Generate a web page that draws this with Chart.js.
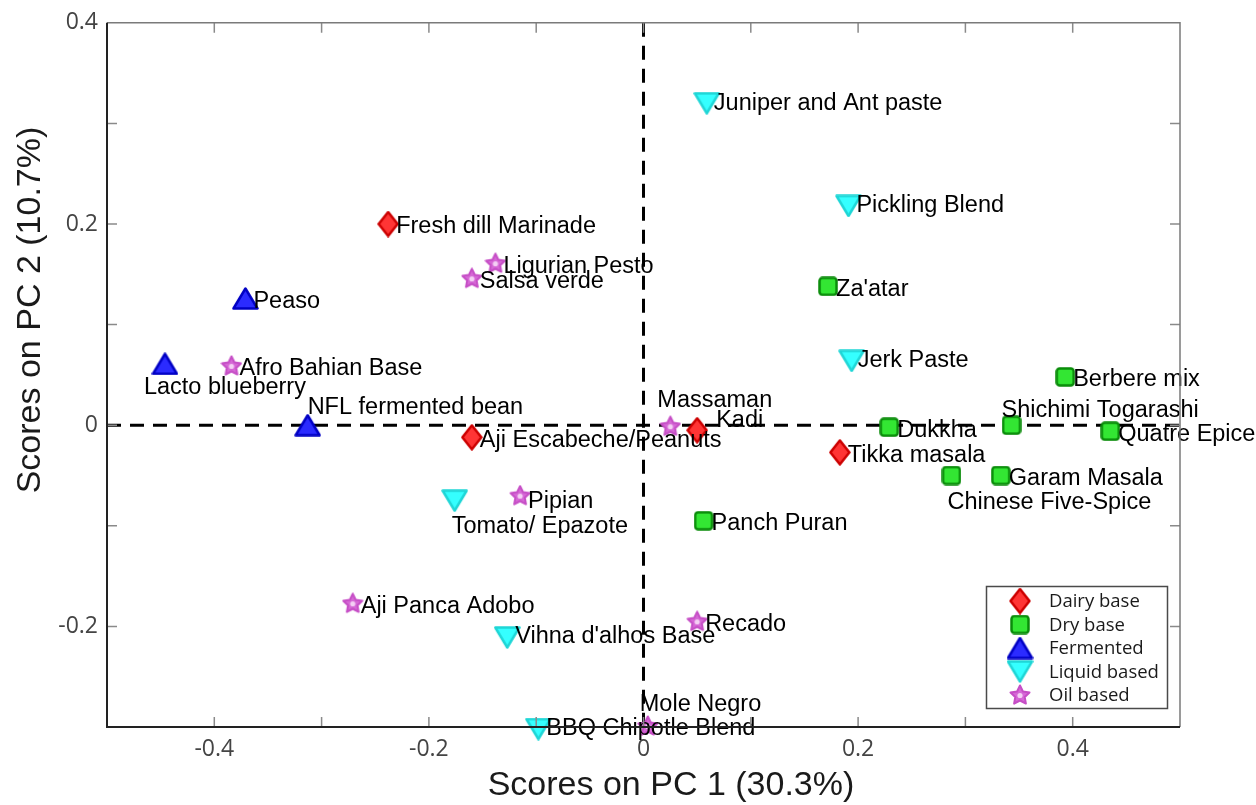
<!DOCTYPE html>
<html>
<head>
<meta charset="utf-8">
<script src="https://cdn.jsdelivr.net/npm/chart.js@4/dist/chart.umd.min.js"></script>
<style>
    html, body { margin: 0; padding: 0; background: #fff; }
    canvas { display: block; }
</style>
</head>
<body>
<canvas id="pcaChart" width="1256" height="805"></canvas>
<script>
// Scores on PC1 / PC2, one set of arrays per group
const dairyNames = ['Fresh dill Marinade', 'Aji Escabeche/Peanuts', 'Kadi', 'Tikka masala'];
const dairyX = [-0.238, -0.160, 0.050, 0.183];
const dairyY = [0.200, -0.012, -0.005, -0.027];

const dryNames = ["Za'atar", 'Berbere mix', 'Dukkha', 'Shichimi Togarashi', 'Quatre Epice', 'Chinese Five-Spice', 'Garam Masala', 'Panch Puran'];
const dryX = [0.172, 0.393, 0.229, 0.343, 0.435, 0.287, 0.333, 0.056];
const dryY = [0.138, 0.048, -0.002, 0.000, -0.006, -0.050, -0.050, -0.095];

const fermentedNames = ['Peaso', 'Lacto blueberry', 'NFL fermented bean'];
const fermentedX = [-0.371, -0.446, -0.313];
const fermentedY = [0.126, 0.061, 0.000];

const liquidNames = ['Juniper and Ant paste', 'Pickling Blend', 'Jerk Paste', 'Tomato/ Epazote', "Vihna d'alhos Base", 'BBQ Chipotle Blend'];
const liquidX = [0.059, 0.191, 0.194, -0.176, -0.127, -0.098];
const liquidY = [0.320, 0.218, 0.064, -0.075, -0.211, -0.302];

const oilNames = ['Ligurian Pesto', 'Salsa verde', 'Afro Bahian Base', 'Massaman', 'Pipian', 'Aji Panca Adobo', 'Recado', 'Mole Negro'];
const oilX = [-0.138, -0.160, -0.384, 0.025, -0.115, -0.271, 0.050, 0.004];
const oilY = [0.161, 0.146, 0.059, -0.001, -0.070, -0.177, -0.195, -0.299];

const groupNames = ['Dairy base', 'Dry base', 'Fermented', 'Liquid based', 'Oil based'];

const xTickLabels = ['-0.4', '-0.2', '0', '0.2', '0.4'];
const yTickLabels = ['-0.2', '0', '0.2', '0.4'];

// label nudges in pixels (text left, text middle) relative to the marker
const defaultNudge = [8, 3];
const labelNudge = {
    'Lacto blueberry': [-21, 24],
    'NFL fermented bean': [0, -18],
    'Tomato/ Epazote': [-3, 26],
    'Mole Negro': [-8, -21],
    'Massaman': [-13, -26],
    'Kadi': [19, -10],
    'Shichimi Togarashi': [-10, -15],
    'Chinese Five-Spice': [-4, 27],
    'Juniper and Ant paste': [7, 0],
    'Pickling Blend': [8, 0],
    'Jerk Paste': [6, 0],
    "Vihna d'alhos Base": [8, -1],
    'BBQ Chipotle Blend': [8, 0],
    'Pipian': [8, 6]
};

function toPoints(names, xs, ys) {
    return names.map((n, i) => ({ x: xs[i], y: ys[i], name: n }));
}

// marker images
function makeMarker(w, h, drawFn) {
    const c = document.createElement('canvas');
    c.width = w;
    c.height = h;
    const ctx = c.getContext('2d');
    ctx.lineJoin = 'round';
    drawFn(ctx);
    return c;
}

const diamond = makeMarker(22, 27, ctx => {
    ctx.beginPath();
    ctx.moveTo(11, 1.5); ctx.lineTo(20.5, 13.5); ctx.lineTo(11, 25.5); ctx.lineTo(1.5, 13.5);
    ctx.closePath();
    ctx.fillStyle = '#ff3535';
    ctx.fill();
    ctx.lineWidth = 2.5;
    ctx.strokeStyle = '#cc0000';
    ctx.stroke();
});

const square = makeMarker(20, 20, ctx => {
    ctx.beginPath();
    ctx.roundRect(1.5, 1.5, 17, 17, 3);
    ctx.fillStyle = '#33e633';
    ctx.fill();
    ctx.lineWidth = 2.5;
    ctx.strokeStyle = '#0a8c0a';
    ctx.stroke();
});

const triUp = makeMarker(27, 23, ctx => {
    ctx.beginPath();
    ctx.moveTo(13.5, 1.5); ctx.lineTo(25.5, 21.5); ctx.lineTo(1.5, 21.5);
    ctx.closePath();
    ctx.fillStyle = '#2b2bff';
    ctx.fill();
    ctx.lineWidth = 2.5;
    ctx.strokeStyle = '#0000c4';
    ctx.stroke();
});

const triDown = makeMarker(27, 23, ctx => {
    ctx.beginPath();
    ctx.moveTo(1.5, 1.5); ctx.lineTo(25.5, 1.5); ctx.lineTo(13.5, 21.5);
    ctx.closePath();
    ctx.fillStyle = '#35ffff';
    ctx.fill();
    ctx.lineWidth = 2.5;
    ctx.strokeStyle = '#1fd6d6';
    ctx.stroke();
});

const star = makeMarker(22, 22, ctx => {
    ctx.beginPath();
    for (let k = 0; k < 10; k++) {
        const r = k % 2 === 0 ? 10 : 5;
        const a = -Math.PI / 2 + k * Math.PI / 5;
        const px = 11 + r * Math.cos(a);
        const py = 11.5 + r * Math.sin(a);
        if (k === 0) ctx.moveTo(px, py); else ctx.lineTo(px, py);
    }
    ctx.closePath();
    ctx.fillStyle = '#d668d6';
    ctx.fill();
    ctx.lineWidth = 2;
    ctx.strokeStyle = '#c64ec6';
    ctx.stroke();
    ctx.beginPath();
    ctx.arc(11, 11.5, 2.6, 0, Math.PI * 2);
    ctx.fillStyle = '#f4d0f4';
    ctx.fill();
});

const markers = [diamond, square, triUp, triDown, star];

// labels, dashed zero lines, axis box, ticks, legend, titles
const decorPlugin = {
    id: 'decor',
    beforeDatasetsDraw(chart) {
        const { ctx, chartArea: a, scales: { x, y } } = chart;
        ctx.save();
        ctx.strokeStyle = '#000';
        ctx.lineWidth = 3;
        ctx.setLineDash([14, 9]);
        const x0 = x.getPixelForValue(0);
        const y0 = y.getPixelForValue(0);
        ctx.beginPath();
        ctx.moveTo(x0, a.top); ctx.lineTo(x0, a.bottom);
        ctx.moveTo(a.left, y0); ctx.lineTo(a.right, y0);
        ctx.stroke();
        ctx.restore();
    },
    afterDatasetsDraw(chart) {
        const { ctx } = chart;
        ctx.save();
        ctx.font = '23.5px "Liberation Sans", Arial, sans-serif';
        ctx.fillStyle = '#000';
        ctx.textAlign = 'left';
        ctx.textBaseline = 'middle';
        chart.data.datasets.forEach((ds, di) => {
            const meta = chart.getDatasetMeta(di);
            meta.data.forEach((pt, i) => {
                const name = ds.data[i].name;
                const n = labelNudge[name] || defaultNudge;
                ctx.fillText(name, pt.x + n[0], pt.y + n[1]);
            });
        });
        ctx.restore();
    },
    afterDraw(chart) {
        const { ctx, chartArea: a, scales: { x, y } } = chart;
        ctx.save();

        // inward ticks on all four sides
        ctx.strokeStyle = '#8a8a8a';
        ctx.lineWidth = 1.5;
        ctx.beginPath();
        for (let k = -4; k <= 4; k++) {
            const px = x.getPixelForValue(k / 10);
            ctx.moveTo(px, a.bottom); ctx.lineTo(px, a.bottom - 10);
            ctx.moveTo(px, a.top); ctx.lineTo(px, a.top + 10);
        }
        for (let k = -2; k <= 3; k++) {
            const py = y.getPixelForValue(k / 10);
            ctx.moveTo(a.left, py); ctx.lineTo(a.left + 10, py);
            ctx.moveTo(a.right, py); ctx.lineTo(a.right - 10, py);
        }
        ctx.stroke();

        // axes box
        ctx.strokeStyle = '#7a7a7a';
        ctx.lineWidth = 1.5;
        ctx.beginPath();
        ctx.moveTo(a.left, a.top); ctx.lineTo(a.right, a.top); ctx.lineTo(a.right, a.bottom);
        ctx.stroke();
        ctx.strokeStyle = '#222';
        ctx.lineWidth = 2;
        ctx.beginPath();
        ctx.moveTo(a.left, a.top); ctx.lineTo(a.left, a.bottom); ctx.lineTo(a.right, a.bottom);
        ctx.stroke();

        // legend box inside the plot
        const lx = 986.5, ly = 586.5, lw = 181, lh = 122;
        ctx.fillStyle = '#fff';
        ctx.fillRect(lx, ly, lw, lh);
        ctx.strokeStyle = '#4a4a4a';
        ctx.lineWidth = 1.5;
        ctx.strokeRect(lx, ly, lw, lh);
        ctx.font = '18.5px "Open Sans", sans-serif';
        ctx.fillStyle = '#1a1a1a';
        ctx.textAlign = 'left';
        ctx.textBaseline = 'middle';
        groupNames.forEach((g, i) => {
            const cy = 601 + i * 23.5;
            const m = markers[i];
            ctx.drawImage(m, 1020 - m.width / 2, cy - m.height / 2);
            ctx.fillText(g, 1049, cy + 1);
        });

        // axis titles
        ctx.fillStyle = '#1a1a1a';
        ctx.font = '34px "Liberation Sans", Arial, sans-serif';
        ctx.textAlign = 'center';
        ctx.textBaseline = 'middle';
        ctx.fillText('Scores on PC 1 (30.3%)', 671, 786);
        ctx.translate(31, 310);
        ctx.rotate(-Math.PI / 2);
        ctx.fillText('Scores on PC 2 (10.7%)', 0, 0);
        ctx.restore();
    }
};

function tickText(list) {
    return function(value) {
        const t = Math.abs(value) < 1e-9 ? '0' : value.toFixed(1);
        return list.includes(t) ? t : '';
    };
}

const tickFont = { family: '"Open Sans", sans-serif', size: 23 };

const ctx = document.getElementById('pcaChart').getContext('2d');
const pcaChart = new Chart(ctx, {
    type: 'scatter',
    data: {
        datasets: [
            { label: groupNames[0], data: toPoints(dairyNames, dairyX, dairyY), pointStyle: diamond },
            { label: groupNames[1], data: toPoints(dryNames, dryX, dryY), pointStyle: square },
            { label: groupNames[2], data: toPoints(fermentedNames, fermentedX, fermentedY), pointStyle: triUp },
            { label: groupNames[3], data: toPoints(liquidNames, liquidX, liquidY), pointStyle: triDown },
            { label: groupNames[4], data: toPoints(oilNames, oilX, oilY), pointStyle: star }
        ].map(ds => Object.assign(ds, { pointRadius: 10, clip: false }))
    },
    options: {
        responsive: false,
        animation: false,
        events: [],
        layout: { padding: { left: 0, top: 19, right: 76, bottom: 0 } },
        plugins: {
            legend: { display: false },
            tooltip: { enabled: false }
        },
        scales: {
            x: {
                type: 'linear',
                min: -0.5,
                max: 0.5,
                grid: { display: false, drawTicks: false },
                border: { display: false },
                ticks: {
                    stepSize: 0.1,
                    autoSkip: false,
                    maxRotation: 0,
                    padding: 9,
                    color: '#444',
                    font: tickFont,
                    callback: tickText(xTickLabels)
                },
                afterFit(scale) { scale.height = 78; }
            },
            y: {
                type: 'linear',
                min: -0.3,
                max: 0.4,
                grid: { display: false, drawTicks: false },
                border: { display: false },
                ticks: {
                    stepSize: 0.1,
                    autoSkip: false,
                    padding: 9,
                    color: '#444',
                    font: tickFont,
                    callback: tickText(yTickLabels)
                },
                afterFit(scale) { scale.width = 107; }
            }
        }
    },
    plugins: [decorPlugin]
});
</script>
</body>
</html>
